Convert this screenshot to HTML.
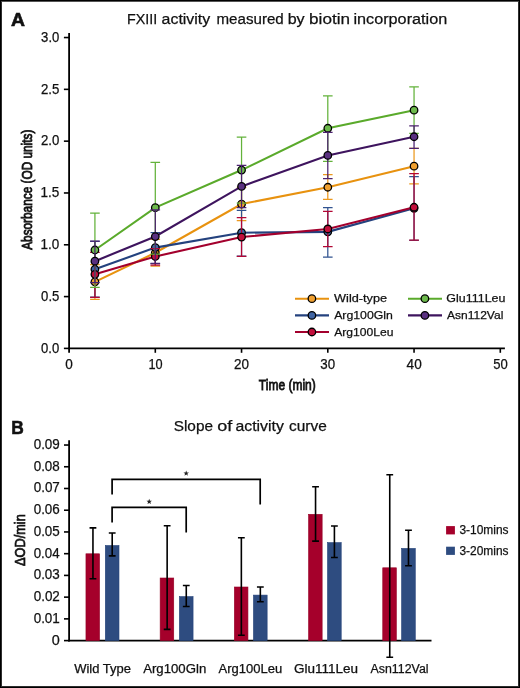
<!DOCTYPE html>
<html><head><meta charset="utf-8"><style>
html,body{margin:0;padding:0;background:#fff;}
#wrap{position:relative;width:520px;height:688px;overflow:hidden;background:#fff;}
#frame{position:absolute;left:0;top:0;width:518px;height:686px;border:1px solid #000;}
#frame2{position:absolute;left:1px;top:1px;width:516px;height:684px;border:1px solid #2e2e2e;border-top-color:#555;}
svg{position:absolute;left:0;top:0;will-change:transform;}
text{font-family:"Liberation Sans", sans-serif;fill:#111;stroke:#111;stroke-width:0.25px;}
</style></head><body><div id="wrap"><svg width="520" height="688" viewBox="0 0 520 688">
<text x="11.12" y="26.3" font-size="18.6" font-weight="bold" textLength="13.99" lengthAdjust="spacingAndGlyphs" style="stroke-width:0.6px">A</text>
<text x="126.93" y="24.2" font-size="15.5" textLength="30.19" lengthAdjust="spacingAndGlyphs">FXIII</text>
<text x="161.62" y="24.2" font-size="15.5" textLength="48.61" lengthAdjust="spacingAndGlyphs">activity</text>
<text x="216.5" y="24.2" font-size="15.5" textLength="67.28" lengthAdjust="spacingAndGlyphs">measured</text>
<text x="287.66" y="24.2" font-size="15.5" textLength="16.97" lengthAdjust="spacingAndGlyphs">by</text>
<text x="309.1" y="24.2" font-size="15.5" textLength="40.91" lengthAdjust="spacingAndGlyphs">biotin</text>
<text x="353.41" y="24.2" font-size="15.5" textLength="93.84" lengthAdjust="spacingAndGlyphs">incorporation</text>
<line x1="69.1" y1="32.9" x2="69.1" y2="352.8" stroke="#000" stroke-width="1.8"/>
<line x1="68.2" y1="348.4" x2="504.9" y2="348.4" stroke="#000" stroke-width="1.7"/>
<line x1="63.9" y1="348.4" x2="69" y2="348.4" stroke="#000" stroke-width="1.6"/>
<text x="41.09" y="352.6" font-size="14" textLength="18.22" lengthAdjust="spacingAndGlyphs">0.0</text>
<line x1="63.9" y1="296.59" x2="69" y2="296.59" stroke="#000" stroke-width="1.6"/>
<text x="41.09" y="300.79" font-size="14" textLength="18.26" lengthAdjust="spacingAndGlyphs">0.5</text>
<line x1="63.9" y1="244.78" x2="69" y2="244.78" stroke="#000" stroke-width="1.6"/>
<text x="40.57" y="248.98" font-size="14" textLength="18.75" lengthAdjust="spacingAndGlyphs">1.0</text>
<line x1="63.9" y1="192.97" x2="69" y2="192.97" stroke="#000" stroke-width="1.6"/>
<text x="40.57" y="197.17" font-size="14" textLength="18.8" lengthAdjust="spacingAndGlyphs">1.5</text>
<line x1="63.9" y1="141.16" x2="69" y2="141.16" stroke="#000" stroke-width="1.6"/>
<text x="40.93" y="145.36" font-size="14" textLength="18.38" lengthAdjust="spacingAndGlyphs">2.0</text>
<line x1="63.9" y1="89.35" x2="69" y2="89.35" stroke="#000" stroke-width="1.6"/>
<text x="40.93" y="93.55" font-size="14" textLength="18.42" lengthAdjust="spacingAndGlyphs">2.5</text>
<line x1="63.9" y1="37.54" x2="69" y2="37.54" stroke="#000" stroke-width="1.6"/>
<text x="41.1" y="41.74" font-size="14" textLength="18.21" lengthAdjust="spacingAndGlyphs">3.0</text>
<text x="65.27" y="368.9" font-size="14" textLength="7.56" lengthAdjust="spacingAndGlyphs">0</text>
<line x1="155.3" y1="348" x2="155.3" y2="352.8" stroke="#000" stroke-width="1.6"/>
<text x="148.53" y="368.9" font-size="14" textLength="14.17" lengthAdjust="spacingAndGlyphs">10</text>
<line x1="241.55" y1="348" x2="241.55" y2="352.8" stroke="#000" stroke-width="1.6"/>
<text x="233.92" y="368.9" font-size="14" textLength="15.01" lengthAdjust="spacingAndGlyphs">20</text>
<line x1="327.8" y1="348" x2="327.8" y2="352.8" stroke="#000" stroke-width="1.6"/>
<text x="320.29" y="368.9" font-size="14" textLength="14.83" lengthAdjust="spacingAndGlyphs">30</text>
<line x1="414.05" y1="348" x2="414.05" y2="352.8" stroke="#000" stroke-width="1.6"/>
<text x="406.59" y="368.9" font-size="14" textLength="15.14" lengthAdjust="spacingAndGlyphs">40</text>
<line x1="500.3" y1="348" x2="500.3" y2="352.8" stroke="#000" stroke-width="1.6"/>
<text x="493.18" y="368.9" font-size="14" textLength="14.53" lengthAdjust="spacingAndGlyphs">50</text>
<text x="258.83" y="390.2" font-size="15.3" textLength="56.91" lengthAdjust="spacingAndGlyphs" style="stroke-width:0.85px">Time (min)</text>
<g transform="translate(32.4,250.2) rotate(-90)">
<text x="0.38" y="-0.1" font-size="15.1" textLength="120.16" lengthAdjust="spacingAndGlyphs" style="stroke-width:0.85px">Absorbance (OD units)</text>
</g>
<path d="M94.92 264.68V299.46M90.12 264.68H99.72M90.12 299.46H99.72" stroke="#ec991f" stroke-width="1.25" fill="none"/>
<path d="M155.3 239.32V266.24M150.5 239.32H160.1M150.5 266.24H160.1" stroke="#ec991f" stroke-width="1.25" fill="none"/>
<path d="M241.55 187.47V220.59M236.75 187.47H246.35M236.75 220.59H246.35" stroke="#ec991f" stroke-width="1.25" fill="none"/>
<path d="M327.8 174.53V199.48M323 174.53H332.6M323 199.48H332.6" stroke="#ec991f" stroke-width="1.25" fill="none"/>
<path d="M414.05 148.35V183.95M409.25 148.35H418.85M409.25 183.95H418.85" stroke="#ec991f" stroke-width="1.25" fill="none"/>
<polyline points="94.92,281.86 155.3,252.78 241.55,204.03 327.8,187.26 414.05,166.15" stroke="#E8920F" stroke-width="2.1" fill="none"/>
<circle cx="94.92" cy="281.86" r="3.75" fill="#F0A030" stroke="#000" stroke-width="1.3"/>
<circle cx="155.3" cy="252.78" r="3.75" fill="#F0A030" stroke="#000" stroke-width="1.3"/>
<circle cx="241.55" cy="204.03" r="3.75" fill="#F0A030" stroke="#000" stroke-width="1.3"/>
<circle cx="327.8" cy="187.26" r="3.75" fill="#F0A030" stroke="#000" stroke-width="1.3"/>
<circle cx="414.05" cy="166.15" r="3.75" fill="#F0A030" stroke="#000" stroke-width="1.3"/>
<path d="M94.92 241.29V297.18M90.12 241.29H99.72M90.12 297.18H99.72" stroke="#315390" stroke-width="1.25" fill="none"/>
<path d="M155.3 232.6V263.54M150.5 232.6H160.1M150.5 263.54H160.1" stroke="#315390" stroke-width="1.25" fill="none"/>
<path d="M241.55 210.34V256.09M236.75 210.34H246.35M236.75 256.09H246.35" stroke="#315390" stroke-width="1.25" fill="none"/>
<path d="M327.8 207.65V257.23M323 207.65H332.6M323 257.23H332.6" stroke="#315390" stroke-width="1.25" fill="none"/>
<path d="M414.05 176.5V240.36M409.25 176.5H418.85M409.25 240.36H418.85" stroke="#315390" stroke-width="1.25" fill="none"/>
<polyline points="94.92,269.24 155.3,247.61 241.55,232.7 327.8,231.87 414.05,208.27" stroke="#24427E" stroke-width="2.1" fill="none"/>
<circle cx="94.92" cy="269.24" r="3.75" fill="#3F64A3" stroke="#000" stroke-width="1.3"/>
<circle cx="155.3" cy="247.61" r="3.75" fill="#3F64A3" stroke="#000" stroke-width="1.3"/>
<circle cx="241.55" cy="232.7" r="3.75" fill="#3F64A3" stroke="#000" stroke-width="1.3"/>
<circle cx="327.8" cy="231.87" r="3.75" fill="#3F64A3" stroke="#000" stroke-width="1.3"/>
<circle cx="414.05" cy="208.27" r="3.75" fill="#3F64A3" stroke="#000" stroke-width="1.3"/>
<path d="M94.92 252.47V297.29M90.12 252.47H99.72M90.12 297.29H99.72" stroke="#b20734" stroke-width="1.25" fill="none"/>
<path d="M155.3 248.64V265.2M150.5 248.64H160.1M150.5 265.2H160.1" stroke="#b20734" stroke-width="1.25" fill="none"/>
<path d="M241.55 217.59V256.4M236.75 217.59H246.35M236.75 256.4H246.35" stroke="#b20734" stroke-width="1.25" fill="none"/>
<path d="M327.8 211.48V246.67M323 211.48H332.6M323 246.67H332.6" stroke="#b20734" stroke-width="1.25" fill="none"/>
<path d="M414.05 173.71V240.05M409.25 173.71H418.85M409.25 240.05H418.85" stroke="#b20734" stroke-width="1.25" fill="none"/>
<polyline points="94.92,274.31 155.3,256.51 241.55,237.05 327.8,228.98 414.05,207.24" stroke="#A3002D" stroke-width="2.1" fill="none"/>
<circle cx="94.92" cy="274.31" r="3.75" fill="#C20F3C" stroke="#000" stroke-width="1.3"/>
<circle cx="155.3" cy="256.51" r="3.75" fill="#C20F3C" stroke="#000" stroke-width="1.3"/>
<circle cx="241.55" cy="237.05" r="3.75" fill="#C20F3C" stroke="#000" stroke-width="1.3"/>
<circle cx="327.8" cy="228.98" r="3.75" fill="#C20F3C" stroke="#000" stroke-width="1.3"/>
<circle cx="414.05" cy="207.24" r="3.75" fill="#C20F3C" stroke="#000" stroke-width="1.3"/>
<path d="M94.92 213.04V287.45M90.12 213.04H99.72M90.12 287.45H99.72" stroke="#63b23b" stroke-width="1.25" fill="none"/>
<path d="M155.3 162.42V254.13M150.5 162.42H160.1M150.5 254.13H160.1" stroke="#63b23b" stroke-width="1.25" fill="none"/>
<path d="M241.55 137.17V203M236.75 137.17H246.35M236.75 203H246.35" stroke="#63b23b" stroke-width="1.25" fill="none"/>
<path d="M327.8 95.98V161.39M323 95.98H332.6M323 161.39H332.6" stroke="#63b23b" stroke-width="1.25" fill="none"/>
<path d="M414.05 86.77V133.34M409.25 86.77H418.85M409.25 133.34H418.85" stroke="#63b23b" stroke-width="1.25" fill="none"/>
<polyline points="94.92,249.99 155.3,207.65 241.55,170.08 327.8,128.27 414.05,110.16" stroke="#5AAA2B" stroke-width="2.1" fill="none"/>
<circle cx="94.92" cy="249.99" r="3.75" fill="#6DBA4C" stroke="#000" stroke-width="1.3"/>
<circle cx="155.3" cy="207.65" r="3.75" fill="#6DBA4C" stroke="#000" stroke-width="1.3"/>
<circle cx="241.55" cy="170.08" r="3.75" fill="#6DBA4C" stroke="#000" stroke-width="1.3"/>
<circle cx="327.8" cy="128.27" r="3.75" fill="#6DBA4C" stroke="#000" stroke-width="1.3"/>
<circle cx="414.05" cy="110.16" r="3.75" fill="#6DBA4C" stroke="#000" stroke-width="1.3"/>
<path d="M94.92 241.19V282.59M90.12 241.19H99.72M90.12 282.59H99.72" stroke="#4c226f" stroke-width="1.25" fill="none"/>
<path d="M155.3 209.93V263.44M150.5 209.93H160.1M150.5 263.44H160.1" stroke="#4c226f" stroke-width="1.25" fill="none"/>
<path d="M241.55 165.32V207.55M236.75 165.32H246.35M236.75 207.55H246.35" stroke="#4c226f" stroke-width="1.25" fill="none"/>
<path d="M327.8 132.31V178.57M323 132.31H332.6M323 178.57H332.6" stroke="#4c226f" stroke-width="1.25" fill="none"/>
<path d="M414.05 125.89V148.45M409.25 125.89H418.85M409.25 148.45H418.85" stroke="#4c226f" stroke-width="1.25" fill="none"/>
<polyline points="94.92,261.16 155.3,236.53 241.55,186.44 327.8,155.39 414.05,136.76" stroke="#3E145E" stroke-width="2.1" fill="none"/>
<circle cx="94.92" cy="261.16" r="3.75" fill="#5A3080" stroke="#000" stroke-width="1.3"/>
<circle cx="155.3" cy="236.53" r="3.75" fill="#5A3080" stroke="#000" stroke-width="1.3"/>
<circle cx="241.55" cy="186.44" r="3.75" fill="#5A3080" stroke="#000" stroke-width="1.3"/>
<circle cx="327.8" cy="155.39" r="3.75" fill="#5A3080" stroke="#000" stroke-width="1.3"/>
<circle cx="414.05" cy="136.76" r="3.75" fill="#5A3080" stroke="#000" stroke-width="1.3"/>
<line x1="295" y1="298.7" x2="329" y2="298.7" stroke="#E8920F" stroke-width="2.1"/>
<circle cx="311.9" cy="298.7" r="3.75" fill="#F0A030" stroke="#000" stroke-width="1.3"/>
<text x="334.14" y="302.2" font-size="11.6" textLength="52.92" lengthAdjust="spacingAndGlyphs">Wild-type</text>
<line x1="295" y1="315.4" x2="329" y2="315.4" stroke="#24427E" stroke-width="2.1"/>
<circle cx="311.9" cy="315.4" r="3.75" fill="#3F64A3" stroke="#000" stroke-width="1.3"/>
<text x="334.18" y="318.9" font-size="11.6" textLength="58.72" lengthAdjust="spacingAndGlyphs">Arg100Gln</text>
<line x1="295" y1="332.0" x2="329" y2="332.0" stroke="#A3002D" stroke-width="2.1"/>
<circle cx="311.9" cy="332.0" r="3.75" fill="#C20F3C" stroke="#000" stroke-width="1.3"/>
<text x="334.18" y="335.6" font-size="11.6" textLength="59.23" lengthAdjust="spacingAndGlyphs">Arg100Leu</text>
<line x1="408" y1="298.7" x2="442" y2="298.7" stroke="#5AAA2B" stroke-width="2.1"/>
<circle cx="424.9" cy="298.7" r="3.75" fill="#6DBA4C" stroke="#000" stroke-width="1.3"/>
<text x="446.39" y="302.2" font-size="11.6" textLength="59.11" lengthAdjust="spacingAndGlyphs">Glu111Leu</text>
<line x1="408" y1="315.4" x2="442" y2="315.4" stroke="#3E145E" stroke-width="2.1"/>
<circle cx="424.9" cy="315.4" r="3.75" fill="#5A3080" stroke="#000" stroke-width="1.3"/>
<text x="446.98" y="318.9" font-size="11.6" textLength="56.4" lengthAdjust="spacingAndGlyphs">Asn112Val</text>
<text x="11.34" y="434" font-size="18.6" font-weight="bold" textLength="12.55" lengthAdjust="spacingAndGlyphs" style="stroke-width:0.6px">B</text>
<text x="173.7" y="431" font-size="15.1" textLength="39.28" lengthAdjust="spacingAndGlyphs">Slope</text>
<text x="217.24" y="431" font-size="15.1" textLength="15.03" lengthAdjust="spacingAndGlyphs">of</text>
<text x="235.53" y="431" font-size="15.1" textLength="48.3" lengthAdjust="spacingAndGlyphs">activity</text>
<text x="289.04" y="431" font-size="15.1" textLength="37.74" lengthAdjust="spacingAndGlyphs">curve</text>
<line x1="69.1" y1="440.2" x2="69.1" y2="641.4" stroke="#000" stroke-width="1.8"/>
<line x1="68.2" y1="640.6" x2="431.5" y2="640.6" stroke="#000" stroke-width="1.8"/>
<line x1="64" y1="640.6" x2="69" y2="640.6" stroke="#000" stroke-width="1.6"/>
<text x="51.74" y="644.6" font-size="14" textLength="8.03" lengthAdjust="spacingAndGlyphs">0</text>
<line x1="64" y1="618.87" x2="69" y2="618.87" stroke="#000" stroke-width="1.6"/>
<text x="33.67" y="622.87" font-size="14" textLength="26.18" lengthAdjust="spacingAndGlyphs">0.01</text>
<line x1="64" y1="597.14" x2="69" y2="597.14" stroke="#000" stroke-width="1.6"/>
<text x="33.67" y="601.14" font-size="14" textLength="26.2" lengthAdjust="spacingAndGlyphs">0.02</text>
<line x1="64" y1="575.41" x2="69" y2="575.41" stroke="#000" stroke-width="1.6"/>
<text x="33.68" y="579.41" font-size="14" textLength="26.11" lengthAdjust="spacingAndGlyphs">0.03</text>
<line x1="64" y1="553.68" x2="69" y2="553.68" stroke="#000" stroke-width="1.6"/>
<text x="33.68" y="557.68" font-size="14" textLength="25.91" lengthAdjust="spacingAndGlyphs">0.04</text>
<line x1="64" y1="531.95" x2="69" y2="531.95" stroke="#000" stroke-width="1.6"/>
<text x="33.68" y="535.95" font-size="14" textLength="26.09" lengthAdjust="spacingAndGlyphs">0.05</text>
<line x1="64" y1="510.22" x2="69" y2="510.22" stroke="#000" stroke-width="1.6"/>
<text x="33.68" y="514.22" font-size="14" textLength="26.11" lengthAdjust="spacingAndGlyphs">0.06</text>
<line x1="64" y1="488.49" x2="69" y2="488.49" stroke="#000" stroke-width="1.6"/>
<text x="33.67" y="492.49" font-size="14" textLength="26.2" lengthAdjust="spacingAndGlyphs">0.07</text>
<line x1="64" y1="466.76" x2="69" y2="466.76" stroke="#000" stroke-width="1.6"/>
<text x="33.68" y="470.76" font-size="14" textLength="26.11" lengthAdjust="spacingAndGlyphs">0.08</text>
<line x1="64" y1="445.03" x2="69" y2="445.03" stroke="#000" stroke-width="1.6"/>
<text x="33.67" y="449.03" font-size="14" textLength="26.16" lengthAdjust="spacingAndGlyphs">0.09</text>
<g transform="translate(24.8,566) rotate(-90)">
<text x="-0.03" y="-0.2" font-size="13.8" textLength="51.81" lengthAdjust="spacingAndGlyphs" style="stroke-width:0.7px">&#916;OD/min</text>
</g>
<rect x="85.95" y="553.8" width="13.6" height="86.8" fill="#A5002B" stroke="#950026" stroke-width="0.6"/>
<rect x="105.3" y="545.5" width="13.7" height="95.1" fill="#2E4C80" stroke="#25437A" stroke-width="0.6"/>
<path d="M92.95 527.9V578.8M89.55 527.9H96.35M89.55 578.8H96.35" stroke="#000" stroke-width="1.6" fill="none"/>
<path d="M112.2 533V555.9M108.8 533H115.6M108.8 555.9H115.6" stroke="#000" stroke-width="1.6" fill="none"/>
<text x="74.24" y="673.4" font-size="12.0" textLength="56.72" lengthAdjust="spacingAndGlyphs">Wild Type</text>
<rect x="160.15" y="578" width="13.6" height="62.6" fill="#A5002B" stroke="#950026" stroke-width="0.6"/>
<rect x="179.37" y="596.6" width="13.7" height="44" fill="#2E4C80" stroke="#25437A" stroke-width="0.6"/>
<path d="M167.15 525.8V629.4M163.75 525.8H170.55M163.75 629.4H170.55" stroke="#000" stroke-width="1.6" fill="none"/>
<path d="M186.27 585.5V606.5M182.87 585.5H189.67M182.87 606.5H189.67" stroke="#000" stroke-width="1.6" fill="none"/>
<text x="143.17" y="673.4" font-size="12.0" textLength="63.08" lengthAdjust="spacingAndGlyphs">Arg100Gln</text>
<rect x="234.35" y="587" width="13.6" height="53.6" fill="#A5002B" stroke="#950026" stroke-width="0.6"/>
<rect x="253.44" y="595.1" width="13.7" height="45.5" fill="#2E4C80" stroke="#25437A" stroke-width="0.6"/>
<path d="M241.35 537.7V635.2M237.95 537.7H244.75M237.95 635.2H244.75" stroke="#000" stroke-width="1.6" fill="none"/>
<path d="M260.34 587V601.8M256.94 587H263.74M256.94 601.8H263.74" stroke="#000" stroke-width="1.6" fill="none"/>
<text x="218.57" y="673.4" font-size="12.0" textLength="63.69" lengthAdjust="spacingAndGlyphs">Arg100Leu</text>
<rect x="308.55" y="514.3" width="13.6" height="126.3" fill="#A5002B" stroke="#950026" stroke-width="0.6"/>
<rect x="327.51" y="542.6" width="13.7" height="98" fill="#2E4C80" stroke="#25437A" stroke-width="0.6"/>
<path d="M315.55 486.7V541.1M312.15 486.7H318.95M312.15 541.1H318.95" stroke="#000" stroke-width="1.6" fill="none"/>
<path d="M334.41 526V557.5M331.01 526H337.81M331.01 557.5H337.81" stroke="#000" stroke-width="1.6" fill="none"/>
<text x="293.94" y="673.4" font-size="12.0" textLength="64.03" lengthAdjust="spacingAndGlyphs">Glu111Leu</text>
<rect x="382.75" y="567.8" width="13.6" height="72.8" fill="#A5002B" stroke="#950026" stroke-width="0.6"/>
<rect x="401.58" y="548.4" width="13.7" height="92.2" fill="#2E4C80" stroke="#25437A" stroke-width="0.6"/>
<path d="M389.75 474.8V657.3M386.35 474.8H393.15M386.35 657.3H393.15" stroke="#000" stroke-width="1.6" fill="none"/>
<path d="M408.48 530.2V565.8M405.08 530.2H411.88M405.08 565.8H411.88" stroke="#000" stroke-width="1.6" fill="none"/>
<text x="370.58" y="673.4" font-size="12.0" textLength="57.92" lengthAdjust="spacingAndGlyphs">Asn112Val</text>
<path d="M112.1 522.4V507.3H186.2V532.6M112.1 494.6V479.3H260.2V504.4" stroke="#000" stroke-width="1.7" fill="none"/>
<polygon points="149.2,498.8 149.92,500.71 151.96,500.8 150.36,502.08 150.9,504.05 149.2,502.92 147.5,504.05 148.04,502.08 146.44,500.8 148.48,500.71" fill="#222"/>
<polygon points="186.2,470.5 186.92,472.41 188.96,472.5 187.36,473.78 187.9,475.75 186.2,474.62 184.5,475.75 185.04,473.78 183.44,472.5 185.48,472.41" fill="#222"/>
<rect x="446.1" y="526.1" width="8.8" height="8.3" fill="#A5002B"/>
<rect x="446.1" y="546.7" width="8.8" height="8.2" fill="#2E4C80"/>
<text x="459.45" y="534" font-size="12.0" textLength="49.09" lengthAdjust="spacingAndGlyphs">3-10mins</text>
<text x="459.45" y="554.6" font-size="12.0" textLength="49.09" lengthAdjust="spacingAndGlyphs">3-20mins</text>
</svg><div id="frame"></div><div id="frame2"></div></div></body></html>
